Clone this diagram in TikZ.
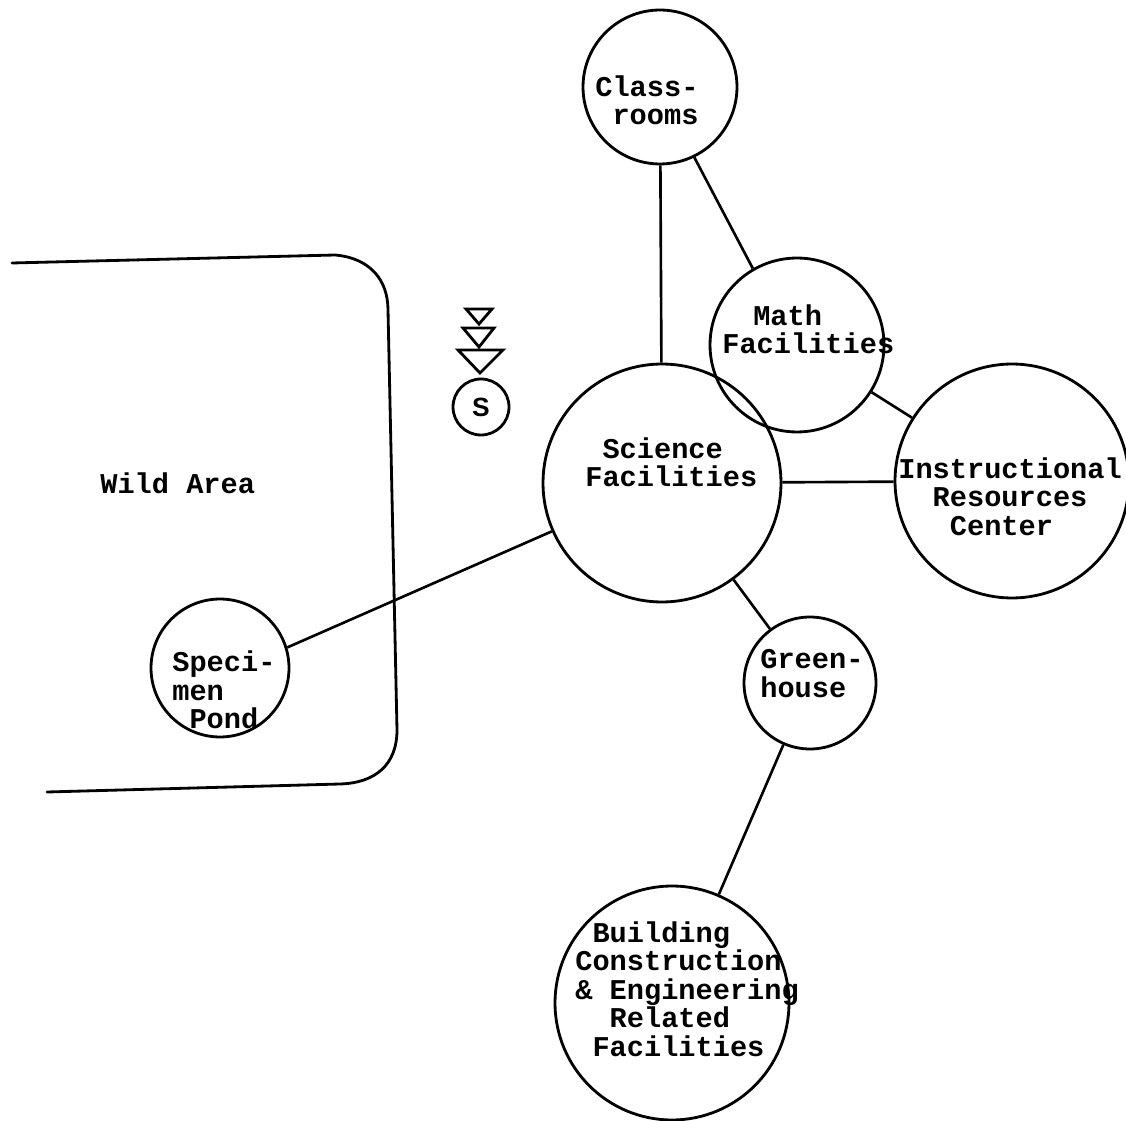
\documentclass[tikz,border=0pt]{standalone}
\usepackage{fontspec}
\newfontfamily\typewfont{Liberation Mono}
\newfontfamily\plainsans{Liberation Sans}
\begin{document}
\begin{tikzpicture}[x=0.02cm, y=-0.02cm,
  bub/.style={circle, draw, line width=1.6pt, inner sep=0pt},
  link/.style={line width=1.5pt},
  edge/.style={line width=1.6pt, line cap=round},
  txt/.style={font={\typewfont\bfseries\fontsize{16.3pt}{16.2pt}\selectfont},
              align=left, inner sep=0pt, anchor=west}]
\useasboundingbox (0,0) rectangle (1126,1121);

% wild area boundary
\draw[edge] (12,263) -- (335,255)
  .. controls (370,258) and (388,280) .. (388,310)
  -- (397,730)
  .. controls (397,765) and (375,783) .. (340,784)
  -- (47,792);
\node[txt] (wildT) at (100,483) {Wild Area};

% spring symbol
\draw[edge, line join=miter] (466,309) -- (492,309) -- (479,324) -- cycle;
\draw[edge, line join=miter] (463,328) -- (494,328) -- (479,347) -- cycle;
\draw[edge, line join=miter] (458,350) -- (503,350) -- (480,373) -- cycle;
\node[bub, minimum size=1.12cm, font={\plainsans\bfseries\fontsize{15pt}{15pt}\selectfont}] (spring) at (481,407) {S};

% facility circles
\node[bub, minimum size=3.08cm] (cls)  at (660,87)   {};
\node[bub, minimum size=3.48cm] (math) at (797,345)  {};
\node[bub, minimum size=4.76cm] (sci)  at (662,483)  {};
\node[bub, minimum size=4.68cm] (inst) at (1012,481) {};
\node[bub, minimum size=2.64cm] (gh)   at (810,683)  {};
\node[bub, minimum size=4.68cm] (bld)  at (672,1003) {};
\node[bub, minimum size=2.76cm] (pond) at (220,668)  {};

% labels
\node[txt] (clsT)  at (595,100.5) {Class-\\\hspace*{0.6em}rooms};
\node[txt] (mathT) at (722,329)   {\hspace*{1.08em}Math\\Facilities};
\node[txt] (sciT)  at (585,462)   {\hspace*{0.6em}Science\\Facilities};
\node[txt] (instT) at (898,496.5) {Instructional\\\hspace*{1.2em}Resources\\\hspace*{1.8em}Center};
\node[txt] (ghT)   at (760,673.5) {Green-\\house};
\node[txt] (bldT)  at (575,989)   {\hspace*{0.6em}Building\\Construction\\\& Engineering\\\hspace*{1.2em}Related\\\hspace*{0.6em}Facilities};
\node[txt] (pondT) at (172,690)   {Speci-\\men\\\hspace*{0.6em}Pond};

% connections
\draw[link] (cls.-64) -- (math.120);
\draw[link] (cls) -- (sci);
\draw[link] (math) -- (inst);
\draw[link] (sci) -- (inst);
\draw[link] (sci) -- (gh);
\draw[link] (gh) -- (bld);
\draw[link] (sci) -- (pond.17);
\end{tikzpicture}
\end{document}
